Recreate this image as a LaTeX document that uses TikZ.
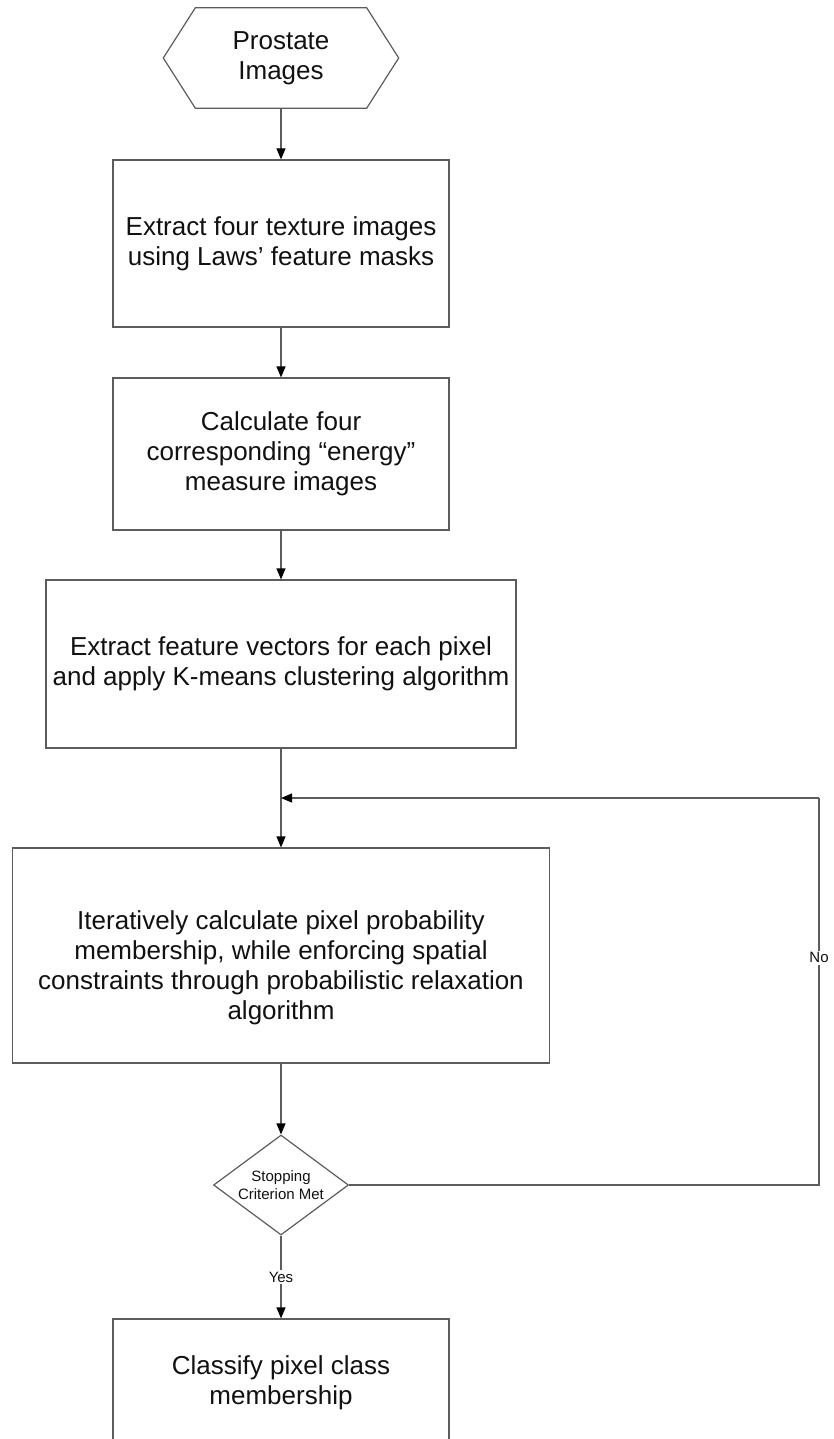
\documentclass[tikz,border=0pt]{standalone}
\usepackage{fontspec}
\setmainfont{Liberation Sans}
\usetikzlibrary{arrows.meta,shapes.geometric,calc}
\definecolor{edge}{HTML}{5C5C5C}
\definecolor{ink}{HTML}{111111}
\begin{document}
\begin{tikzpicture}[x=1pt,y=-1pt,
  line/.style={draw=edge,line width=1.2pt},
  flow/.style={line,-{Triangle[length=11pt,width=9pt,color=black]}},
  bigtext/.style={text=ink,align=center,font=\fontsize{26}{30}\selectfont},
  stepbox/.style={draw=edge,line width=1.2pt,rectangle,inner sep=0pt,bigtext},
  small/.style={text=ink,font=\fontsize{15}{18}\selectfont,align=center},
  edgelabel/.style={small,fill=white,inner sep=1.5pt}]
\useasboundingbox (0,0) rectangle (833,1439);
\clip (0,0) rectangle (833,1439);

% start terminal (hexagon drawn around a named text node)
\node (src) [minimum width=235pt,minimum height=100pt,inner sep=0pt,bigtext]
  at (281,58) {Prostate\\Images};
\draw[line,line join=miter] (src.west) -- ($(src.north west)+(32,0)$)
  -- ($(src.north east)+(-32,0)$) -- (src.east)
  -- ($(src.south east)+(-32,0)$) -- ($(src.south west)+(32,0)$) -- cycle;

% processing steps
\node (b1) [stepbox,minimum width=336pt,minimum height=167pt] at (281,243.5)
  {Extract four texture images\\using Laws’ feature masks};
\node (b2) [stepbox,minimum width=336pt,minimum height=152pt] at (281,454)
  {Calculate four\\corresponding “energy”\\measure images};
\node (b3) [stepbox,minimum width=470pt,minimum height=168pt] at (281,664)
  {Extract feature vectors for each pixel\\and apply K-means clustering algorithm};
\node (b4) [stepbox,minimum width=537pt,minimum height=215pt] at (281,955.5) {};
\node (b4text) [bigtext] at ($(b4)+(0,12)$)
  {Iteratively calculate pixel probability\\membership, while enforcing spatial\\constraints through probabilistic relaxation\\algorithm};

% decision
\node (dec) [diamond,draw=edge,line width=1.2pt,minimum width=135pt,
  minimum height=100pt,inner sep=0pt] at (281,1185) {};
\node (dectext) [small] at (dec) {Stopping\\Criterion Met};

% final step (runs past the lower edge)
\node (b5) [stepbox,minimum width=336pt,minimum height=128pt] at (281,1383)
  {Classify pixel class\\membership};

% loop-back route
\coordinate (loopR) at (819,1185);
\coordinate (loopT) at (819,798);
\coordinate (merge) at (281,798);

% connectors
\draw[flow] (src.south) -- (b1.north);
\draw[flow] (b1.south) -- (b2.north);
\draw[flow] (b2.south) -- (b3.north);
\draw[flow] (b3.south) -- (b4.north);
\draw[flow] (b4.south) -- (dec.north);
\draw[flow] (dec.south) -- node[edgelabel] {Yes} (b5.north);
\draw[line] (dec.east) -- (loopR) -- node[edgelabel,pos=0.587] {No} (loopT);
\draw[flow] (loopT) -- (merge);
\end{tikzpicture}
\end{document}
